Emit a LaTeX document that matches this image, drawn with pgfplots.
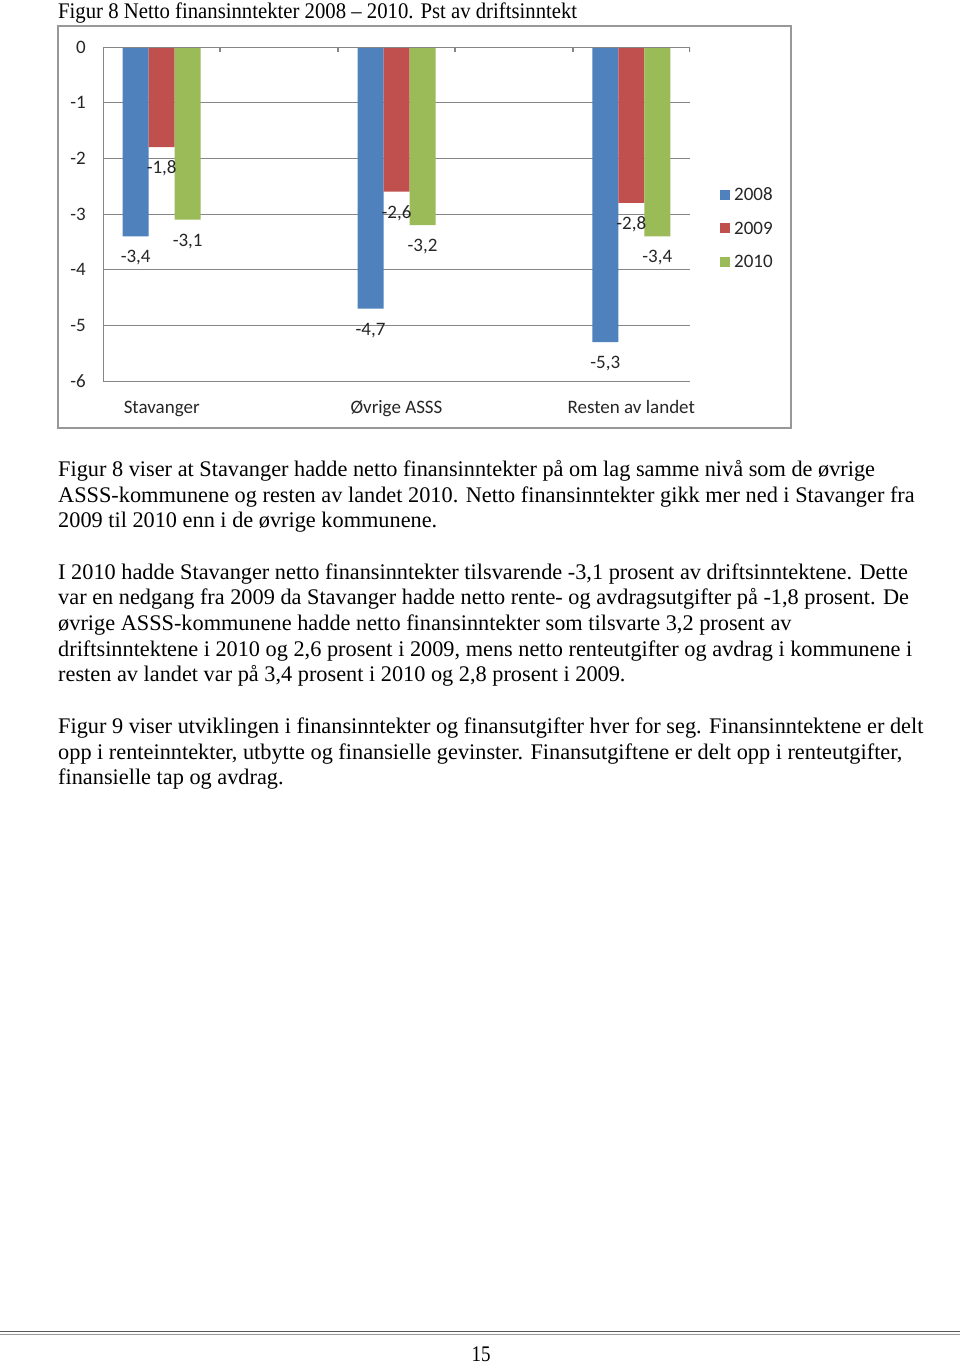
\documentclass[border=0pt]{standalone}
\usepackage{fontspec}
\setmainfont{Liberation Serif}
\newfontfamily\calibri{Carlito}
\usepackage{graphicx}
\usepackage{pgfplots}
\pgfplotsset{compat=1.18}
\definecolor{xlblue}{HTML}{4F81BD}
\definecolor{xlred}{HTML}{C0504D}
\definecolor{xlgreen}{HTML}{9BBB59}
\definecolor{xlgrid}{HTML}{868686}
\definecolor{xltext}{HTML}{262626}
\newcommand\chartfont{\calibri\fontsize{19}{21}\selectfont}
\newcommand\bodyfont{\fontsize{22.3}{26}\selectfont}
\newcommand\txtline[2]{\node[anchor=base west, inner sep=0pt, font=\bodyfont] at (58,-#1) {#2};}

\begin{document}
\begin{tikzpicture}[x=1pt,y=1pt]
\useasboundingbox[fill=white] (0,0) rectangle (960,-1365);

% caption above the chart
\node[anchor=base west, inner sep=0pt, font=\bodyfont] at (58,-18)
  {\scalebox{0.93}[1]{Figur 8 Netto finansinntekter 2008 – 2010. Pst av driftsinntekt}};

% chart frame
\draw[xlgrid!85, line width=1.5pt] (58,-26) rectangle (791,-428);

\begin{axis}[
  at={(103pt,-381pt)}, anchor=south west,
  scale only axis, width=587pt, height=334pt,
  xmin=-0.5, xmax=4.5, ymin=-6, ymax=0,
  ybar=0pt, bar width=26pt,
  axis line style={draw=none},
  ymajorgrids, grid style={xlgrid, line width=0.8pt},
  ytick={-6,-5,-4,-3,-2,-1,0},
  yticklabels={-6,-5,-4,-3,-2,-1,0},
  xtick={0,2,4},
  xticklabels={Stavanger,Øvrige ASSS,Resten av landet},
  major tick length=0pt, tick style={draw=none},
  ticklabel style={font=\chartfont, text=xltext},
  yticklabel style={anchor=east, inner sep=0pt, xshift=-17pt},
  xticklabel style={anchor=base, inner sep=0pt, yshift=-32pt},
  nodes near coords={\pgfmathprintnumber[fixed,fixed zerofill,precision=1,use comma,assume math mode=true]{\pgfplotspointmeta}},
  every node near coord/.append style={font=\chartfont, text=xltext, anchor=base, inner sep=0pt, yshift=-26.5pt},
  legend style={at={(axis description cs:1,1)}, anchor=north west,
    xshift=30pt, yshift=-141.25pt, draw=none, fill=none, inner sep=0pt,
    font=\chartfont, text=xltext, row sep=21pt, column sep=4pt,
    cells={anchor=west},
    nodes={inner sep=0pt, text height=12.5pt, text depth=0pt}},
  legend cell align=left,
  legend image code/.code={\fill[#1] (0pt,-5pt) rectangle (10pt,5pt);},
]
\addplot[fill=xlblue, draw=none] coordinates {(0,-3.4) (2,-4.7) (4,-5.3)};
\addplot[fill=xlred, draw=none] coordinates {(0,-1.8) (2,-2.6) (4,-2.8)};
\addplot[fill=xlgreen, draw=none] coordinates {(0,-3.1) (2,-3.2) (4,-3.4)};
\legend{2008,2009,2010}
% axis lines and ticks as Excel draws them
\draw[xlgrid, line width=2.6pt] (axis cs:-0.5,-6) -- (axis cs:-0.5,0) -- (axis cs:4.5,0);
\pgfplotsinvokeforeach{-6,-5,-4,-3,-2,-1,0}{
  \draw[xlgrid, line width=2pt] (axis cs:-0.5,#1) -- ++(-5pt,0pt);
}
\pgfplotsinvokeforeach{-0.5,0.5,1.5,2.5,3.5,4.5}{
  \draw[xlgrid, line width=2pt] (axis cs:#1,0) -- ++(0pt,-5pt);
}
\end{axis}

% body text
\txtline{476.5}{Figur 8 viser at Stavanger hadde netto finansinntekter på om lag samme nivå som de øvrige}
\txtline{502}{ASSS-kommunene og resten av landet 2010. Netto finansinntekter gikk mer ned i Stavanger fra}
\txtline{527.5}{2009 til 2010 enn i de øvrige kommunene.}
\txtline{579}{I 2010 hadde Stavanger netto finansinntekter tilsvarende -3,1 prosent av driftsinntektene. Dette}
\txtline{604.5}{var en nedgang fra 2009 da Stavanger hadde netto rente- og avdragsutgifter på -1,8 prosent. De}
\txtline{630}{øvrige ASSS-kommunene hadde netto finansinntekter som tilsvarte 3,2 prosent av}
\txtline{656}{driftsinntektene i 2010 og 2,6 prosent i 2009, mens netto renteutgifter og avdrag i kommunene i}
\txtline{681}{resten av landet var på 3,4 prosent i 2010 og 2,8 prosent i 2009.}
\txtline{733}{Figur 9 viser utviklingen i finansinntekter og finansutgifter hver for seg. Finansinntektene er delt}
\txtline{759}{opp i renteinntekter, utbytte og finansielle gevinster. Finansutgiftene er delt opp i renteutgifter,}
\txtline{784}{finansielle tap og avdrag.}

% footer rule and page number
\draw[black!65, line width=1.6pt] (0,-1331.5) -- (960,-1331.5);
\draw[black!40, line width=1.2pt] (0,-1334.2) -- (960,-1334.2);
\node[anchor=base, inner sep=0pt, font=\bodyfont] at (481,-1361) {\scalebox{0.85}[1]{15}};
\end{tikzpicture}
\end{document}
